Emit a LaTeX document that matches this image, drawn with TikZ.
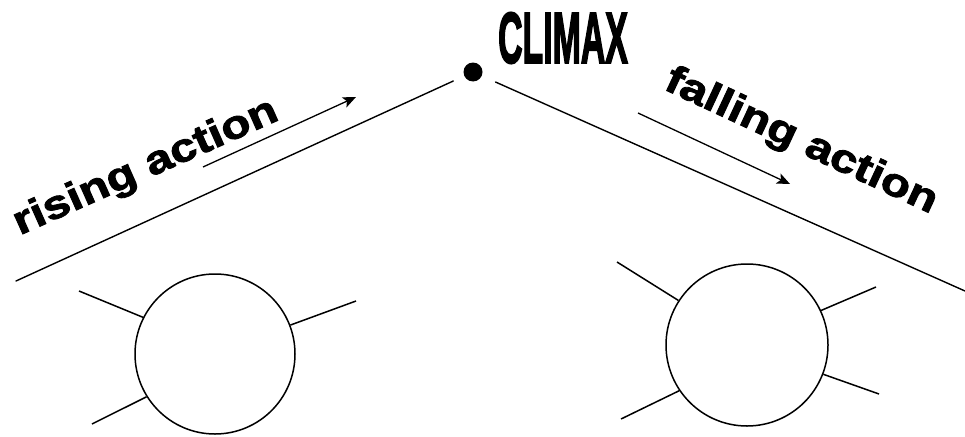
\documentclass[tikz,border=0pt]{standalone}
\usepackage{fontspec}
\setmainfont{Liberation Sans}
\newfontfamily\heavyfont[FakeBold=2]{Liberation Sans Bold}
\newfontfamily\climaxfont[FakeBold=3]{Liberation Sans Bold}
\usetikzlibrary{arrows.meta}
\begin{document}
\begin{tikzpicture}[x=1pt,y=-1pt,
  plotline/.style={line width=1.4pt, line cap=round},
  dirarrow/.style={line width=1.3pt, -{Stealth[length=13pt,width=11pt,inset=3pt]}},
  phase/.style={font=\heavyfont\fontsize{40}{44}\selectfont, inner sep=0pt},
  ball/.style={circle, draw, line width=1.5pt, minimum size=160pt, inner sep=0pt},
  spoke/.style={line width=1.5pt}
]
\useasboundingbox (0,0) rectangle (965,436);
% climax dot and label
\node[circle, fill=black, minimum size=19pt, inner sep=0pt] (dot) at (473,72) {};
\node[inner sep=0pt, font=\climaxfont\fontsize{72}{72}\selectfont] (climax) at (563,38) {\scalebox{0.47}[1]{CLIMAX}};
% plot lines
\coordinate (rstart) at (16,281);
\coordinate (fend) at (965,291);
\draw[plotline, shorten >=12pt] (rstart) -- (dot);
\draw[plotline, shorten <=15pt] (dot) -- (fend);
% direction arrows
\coordinate (ra1) at (203,167);
\coordinate (ra2) at (356,97);
\draw[dirarrow] (ra1) -- (ra2);
\coordinate (fa1) at (638,113);
\coordinate (fa2) at (790,184);
\draw[dirarrow] (fa1) -- (fa2);
% labels
\node[phase, rotate=24] (rising) at (146,168) {\scalebox{1.2}[1]{rising action}};
\node[phase, rotate=-25] (falling) at (801,142) {\scalebox{1.2}[1]{falling action}};
% left circle
\node[ball] (lc) at (215,354) {};
\coordinate (l1) at (79,291);
\coordinate (l2) at (356,301);
\coordinate (l3) at (92,424);
\draw[spoke] (lc.153) -- (l1);
\draw[spoke] (lc.21) -- (l2);
\draw[spoke] (lc.212) -- (l3);
% right circle
\node[ball, minimum size=162pt] (rc) at (747,345) {};
\coordinate (r1) at (617,262);
\coordinate (r2) at (876,287);
\coordinate (r3) at (879,394);
\coordinate (r4) at (621,419);
\draw[spoke] (rc.147) -- (r1);
\draw[spoke] (rc.25) -- (r2);
\draw[spoke] (rc.-21.5) -- (r3);
\draw[spoke] (rc.214.5) -- (r4);
\end{tikzpicture}
\end{document}
